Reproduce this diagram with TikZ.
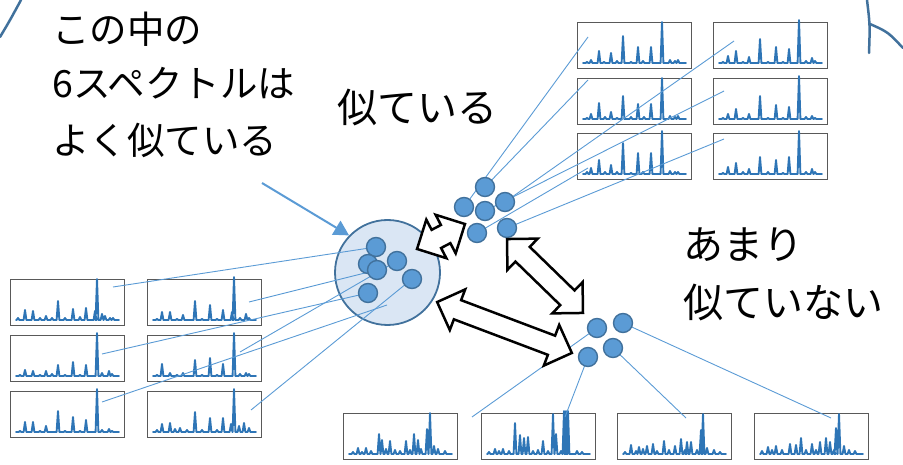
\documentclass[tikz,border=0pt]{standalone}
\usepackage{fontspec}
\newfontfamily\jp{Noto Sans CJK JP}
\usetikzlibrary{arrows.meta,shapes.arrows,calc}
\definecolor{dotfill}{RGB}{91,155,213}
\definecolor{dotedge}{RGB}{65,113,156}
\definecolor{circfill}{RGB}{218,230,244}
\definecolor{specblue}{RGB}{46,117,182}
\definecolor{framegray}{RGB}{89,89,89}
\definecolor{decoblue}{RGB}{65,113,156}
\tikzset{
 specframe/.style={draw=framegray, line width=1.4pt, minimum width=114pt, minimum height=46pt, inner sep=0pt, anchor=north west},
 specline/.style={draw=specblue, line width=1.9pt, line join=round, line cap=round},
 sdot/.style={circle, fill=dotfill, draw=dotedge, line width=1.4pt, minimum size=19pt, inner sep=0pt},
 link/.style={draw=dotfill, line width=0.9pt},
 blockarrow/.style={double arrow, draw=black, fill=white, line width=2.5pt, inner xsep=0pt, inner ysep=9pt, double arrow head extend=11.5pt, double arrow tip angle=90, line join=miter},
 lbl/.style={font=\jp\fontsize{40}{48}\selectfont, anchor=west, inner sep=0pt},
 lbls/.style={font=\jp\fontsize{37.5}{44}\selectfont, anchor=west, inner sep=0pt},
 pointer/.style={draw=dotfill, line width=2pt, -{Triangle[length=15pt,width=16pt]}},
 deco/.style={draw=decoblue, line width=2.5pt, line cap=round},
}
\newcommand\specbox[4]{%
 \node[specframe] (#1) at (#2,#3) {};
 \begin{scope}[shift={(#2,#3+41)}]
 \draw[specline] (6,0) foreach \p/\h in {#4} {-- (\p-1.4,0) -- (\p,-\h) -- (\p+1.4,0)} -- (109,0);
 \end{scope}}
\begin{document}
\begin{tikzpicture}[x=1pt,y=-1pt]
\useasboundingbox (0,0) rectangle (903,465);
% decorations at the edges
\draw[deco] (0,37) .. controls (9,22) .. (21,0);
\draw[deco] (867,0) .. controls (870,25) .. (869,53);
\draw[deco] (870,24) .. controls (888,32) .. (903,48);
% texts
\node[lbls] (t1) at (52,29) {この中の};
\node[lbls] (t2) at (52,83) {6スペクトルは};
\node[lbls] (t3) at (52,140) {よく似ている};
\node[lbl] (s1) at (337,108) {似ている};
\node[lbl] (s2) at (683,245) {あまり};
\node[lbl] (s3) at (683,303) {似ていない};
% spectra top right
\specbox{tra}{577}{22}{10/1,14/3,22/12,27/1,34/10,40/2,46/27,54/1,61/16,66/2,74/16,85/41,93/3,98/2,101/3}
\specbox{trb}{577}{78}{10/1,14/5,22/16,28/2,34/7,40/1,46/23,54/2,61/15,67/2,74/15,85/41,93/3,98/2,101/3}
\specbox{trc}{577}{133}{10/2,14/6,22/14,28/2,34/9,40/2,46/31,54/1,61/21,66/2,74/21,85/43,93/3,98/2,101/2}
\specbox{trd}{713}{22}{10/1,15/7,23/12,30/1,36/6,47/24,55/1,63/16,70/1,76/14,86/43,93/2,99/5,102/2}
\specbox{tre}{713}{78}{10/1,15/5,23/10,30/1,36/5,47/23,55/1,63/14,70/1,76/12,86/43,93/2,99/3,102/1}
\specbox{trf}{713}{133}{10/1,15/7,23/11,30/2,36/5,47/17,55/2,63/14,70/1,76/17,86/43,93/2,99/5,102/2}
% spectra left
\specbox{lfa}{10}{279}{8/2,15/10,23/9,30/2,36/4,42/2,48/19,55/2,63/11,70/3,76/12,85/9,87/41,92/6,95/4,100/2,103/2}
\specbox{lfb}{147}{279}{10/1,15/8,23/8,30/1,36/5,48/19,55/1,63/15,70/1,76/10,85/8,87/43,93/2,99/6,102/2}
\specbox{lfc}{10}{335}{10/1,15/6,23/5,30/1,36/5,42/2,48/11,55/1,63/14,70/1,76/11,87/43,92/3,99/5,102/2}
\specbox{lfd}{147}{335}{10/1,15/12,23/3,30/1,36/3,48/16,55/1,63/18,70/1,76/12,87/43,93/2,99/3,102/2}
\specbox{lfe}{10}{391}{10/1,15/10,23/10,30/1,36/6,48/21,55/1,63/15,70/1,76/12,87/43,92/2,99/3,102/1}
\specbox{lff}{147}{391}{10/2,15/8,23/9,28/3,33/4,40/2,48/20,55/2,63/14,70/2,76/14,84/8,87/43,92/6,97/9,102/4}
% spectra bottom
\specbox{bta}{343}{413}{10/2,15/6,19/2,23/6,28/3,36/20,39/14,43/5,47/13,52/4,57/3,63/13,67/4,71/20,75/14,78/5,84/25,87/41,91/8,95/5,102/3}
\specbox{btb}{481}{413}{8/2,14/5,18/3,22/5,28/3,34/31,39/19,43/16,47/17,52/3,57/4,62/13,67/3,72/40,75/20,80/3,83/43,85/43,87/43,96/3,101/2}
\specbox{btc}{617}{413}{8/2,14/9,19/3,22/7,26/5,30/8,36/10,40/3,47/13,52/4,58/8,64/15,68/4,70/12,74/12,80/4,84/24,86/40,90/6,97/4,103/2}
\specbox{btd}{754}{413}{8/3,14/7,18/4,22/8,28/4,36/10,42/9,47/16,52/4,58/10,62/4,66/12,72/16,76/12,80/4,82/26,85/40,90/8,95/4,101/3}
% big cluster circle
\node[circle, minimum size=105pt, inner sep=0pt, fill=circfill, draw=dotedge, line width=1.8pt] (clus) at (387.5,272.5) {};
% dot positions
\coordinate (c1) at (376,247);
\coordinate (c2) at (368,264);
\coordinate (c3) at (377,270);
\coordinate (c4) at (397,261);
\coordinate (c5) at (412,279);
\coordinate (c6) at (368,293);
\coordinate (u1) at (485,187);
\coordinate (u2) at (464,207);
\coordinate (u3) at (505,202);
\coordinate (u4) at (485,211);
\coordinate (u5) at (477,233);
\coordinate (u6) at (507,228);
\coordinate (w1) at (597,328);
\coordinate (w2) at (623,323);
\coordinate (w3) at (588,357);
\coordinate (w4) at (613,348);
% link end points inside spectra
\coordinate (ptra) at (588,37);
\coordinate (ptrb) at (588,80);
\coordinate (ptrc) at (588,168);
\coordinate (ptrd) at (734,41);
\coordinate (ptre) at (724,91);
\coordinate (ptrf) at (724,139);
\coordinate (plfa) at (113,287);
\coordinate (plfb) at (249,302);
\coordinate (plfc) at (102,354);
\coordinate (plfd) at (240,352);
\coordinate (plfe) at (102,402);
\coordinate (plff) at (251,410);
\coordinate (pend) at (387,305);
\coordinate (pbta) at (472,417);
\coordinate (pbtb) at (565,417);
\coordinate (pbtc) at (686,418);
\coordinate (pbtd) at (831,418);
% links
\draw[link] (u2) -- (ptra);
\draw[link] (u1) -- (ptrb);
\draw[link] (u5) -- (ptrc);
\draw[link] (u3) -- (ptrd);
\draw[link] (u4) -- (ptre);
\draw[link] (u6) -- (ptrf);
\draw[link] (plfa) -- (c1);
\draw[link] (plfb) -- (c3);
\draw[link] (plfc) -- (c6);
\draw[link] (plfd) -- (c4);
\draw[link] (plfe) -- (pend);
\draw[link] (plff) -- (c5);
\draw[link] (w1) -- (pbta);
\draw[link] (w3) -- (pbtb);
\draw[link] (w4) -- (pbtc);
\draw[link] (w2) -- (pbtd);
% dots
\foreach \d in {c1,c2,c3,c4,c5,c6,u1,u2,u3,u4,u5,u6,w1,w2,w3,w4}
 \node[sdot] (d\d) at (\d) {};
% pointer arrow
\coordinate (pstart) at (262,183);
\draw[pointer] (pstart) -- (clus.136);
% block arrows
\node[blockarrow, minimum height=54pt, rotate=27.5] (ba1) at (441,236.5) {};
\node[blockarrow, minimum height=106pt, rotate=-44.2] (ba2) at (545,276) {};
\node[blockarrow, minimum height=144pt, rotate=-20.7] (ba3) at (504.5,327.5) {};
\end{tikzpicture}
\end{document}
